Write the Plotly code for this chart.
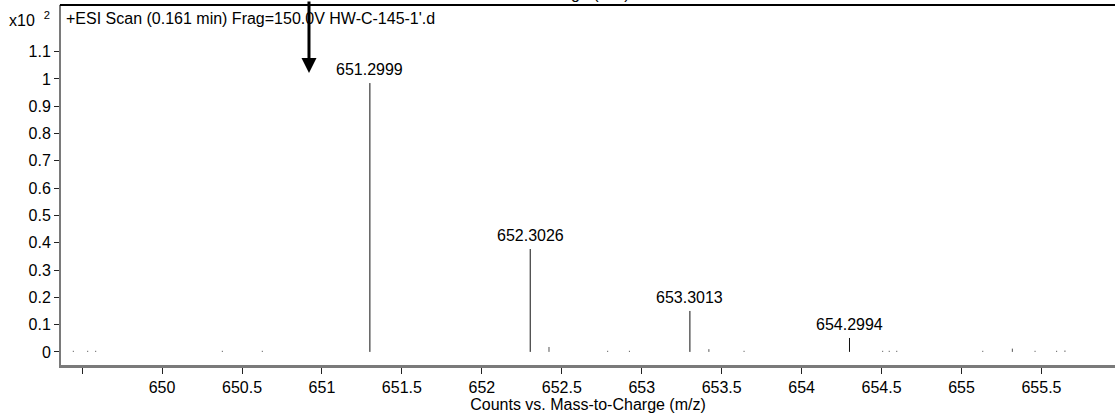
import plotly.graph_objects as go

# Labelled isotope peaks (m/z, intensity in units of x10^2 counts)
peak_mz = [651.2999, 652.3026, 653.3013, 654.2994]
peak_int = [0.985, 0.377, 0.150, 0.051]

# Minor / noise peaks
minor_mz = [649.445, 649.535, 649.585, 650.377, 650.627, 652.420, 652.787,
            652.923, 653.420, 653.640, 654.507, 654.548, 654.595, 655.133,
            655.318, 655.460, 655.595, 655.647]
minor_int = [0.004, 0.004, 0.004, 0.004, 0.004, 0.018, 0.004,
             0.004, 0.010, 0.004, 0.004, 0.004, 0.004, 0.004,
             0.012, 0.004, 0.004, 0.005]

x_ticks = [649.5, 650, 650.5, 651, 651.5, 652, 652.5, 653, 653.5, 654,
           654.5, 655, 655.5]
x_tick_text = ["", "650", "650.5", "651", "651.5", "652", "652.5", "653",
               "653.5", "654", "654.5", "655", "655.5"]
y_ticks = [0, 0.1, 0.2, 0.3, 0.4, 0.5, 0.6, 0.7, 0.8, 0.9, 1.0, 1.1]
y_tick_text = ["0", "0.1", "0.2", "0.3", "0.4", "0.5", "0.6", "0.7", "0.8",
               "0.9", "1", "1.1"]

scan_title = "+ESI Scan (0.161 min) Frag=150.0V HW-C-145-1'.d"
x_title = "Counts vs. Mass-to-Charge (m/z)"

FONT = "Liberation Sans, Arial, sans-serif"
FS = 16


def sticks(xs, ys):
    sx, sy = [], []
    for x, y in zip(xs, ys):
        sx += [x, x, None]
        sy += [0, y, None]
    return sx, sy


fig = go.Figure()

mx, my = sticks(minor_mz, minor_int)
fig.add_trace(go.Scatter(x=mx, y=my, mode="lines",
                         line=dict(color="#555555", width=1),
                         hoverinfo="skip", showlegend=False))

px, py = sticks(peak_mz, peak_int)
fig.add_trace(go.Scatter(x=px, y=py, mode="lines",
                         line=dict(color="#111111", width=1),
                         hoverinfo="skip", showlegend=False))

annotations = []
for mz, inten in zip(peak_mz, peak_int):
    annotations.append(dict(x=mz, y=inten, xref="x", yref="y",
                            text=f"{mz:.4f}", showarrow=False,
                            yanchor="bottom", xanchor="center", yshift=3,
                            font=dict(family=FONT, size=FS, color="#000")))

# scale factor label
annotations.append(dict(x=0, y=0.962, xref="paper", yref="paper",
                        text="x10  <sup>2</sup>", showarrow=False,
                        xanchor="right", yanchor="middle", xshift=-9,
                        font=dict(family=FONT, size=FS, color="#000")))
# scan description
annotations.append(dict(x=0, y=0.962, xref="paper", yref="paper",
                        text=scan_title, showarrow=False,
                        xanchor="left", yanchor="middle", xshift=3,
                        font=dict(family=FONT, size=FS, color="#000")))
# axis title of the panel above, cut off at the top edge
annotations.append(dict(x=0.428, y=1, xref="paper", yref="paper",
                        text=x_title, showarrow=False,
                        xanchor="center", yanchor="bottom", yshift=1,
                        font=dict(family=FONT, size=FS, color="#000")))
# marker arrow
annotations.append(dict(x=650.919, y=1.022, xref="x", yref="y",
                        text="", showarrow=True, ax=0, ay=-80,
                        axref="pixel", ayref="pixel",
                        arrowhead=2, arrowsize=1, arrowwidth=3,
                        arrowcolor="#000"))

fig.update_layout(
    width=1115, height=417,
    margin=dict(l=61, r=0, t=5, b=52),
    paper_bgcolor="white", plot_bgcolor="white",
    annotations=annotations,
    shapes=[dict(type="line", xref="paper", yref="paper",
                 x0=-0.001, x1=1, y0=1, y1=1,
                 line=dict(color="#000", width=2))],
    xaxis=dict(range=[649.368, 655.96], tickvals=x_ticks,
               ticktext=x_tick_text, ticks="outside", ticklen=6,
               tickcolor="#222", tickwidth=1, showgrid=False,
               zeroline=False, showline=True, linecolor="#7a7a7a",
               linewidth=3,
               tickfont=dict(family=FONT, size=FS, color="#000"),
               title=dict(text=x_title, standoff=2,
                          font=dict(family=FONT, size=FS, color="#000"))),
    yaxis=dict(range=[-0.048, 1.271], tickvals=y_ticks,
               ticktext=y_tick_text, ticks="outside", ticklen=5,
               tickcolor="#222", tickwidth=1, showgrid=False,
               zeroline=False, showline=True, linecolor="#7a7a7a",
               linewidth=2,
               tickfont=dict(family=FONT, size=FS, color="#000")),
)

fig.write_html("out.html")
